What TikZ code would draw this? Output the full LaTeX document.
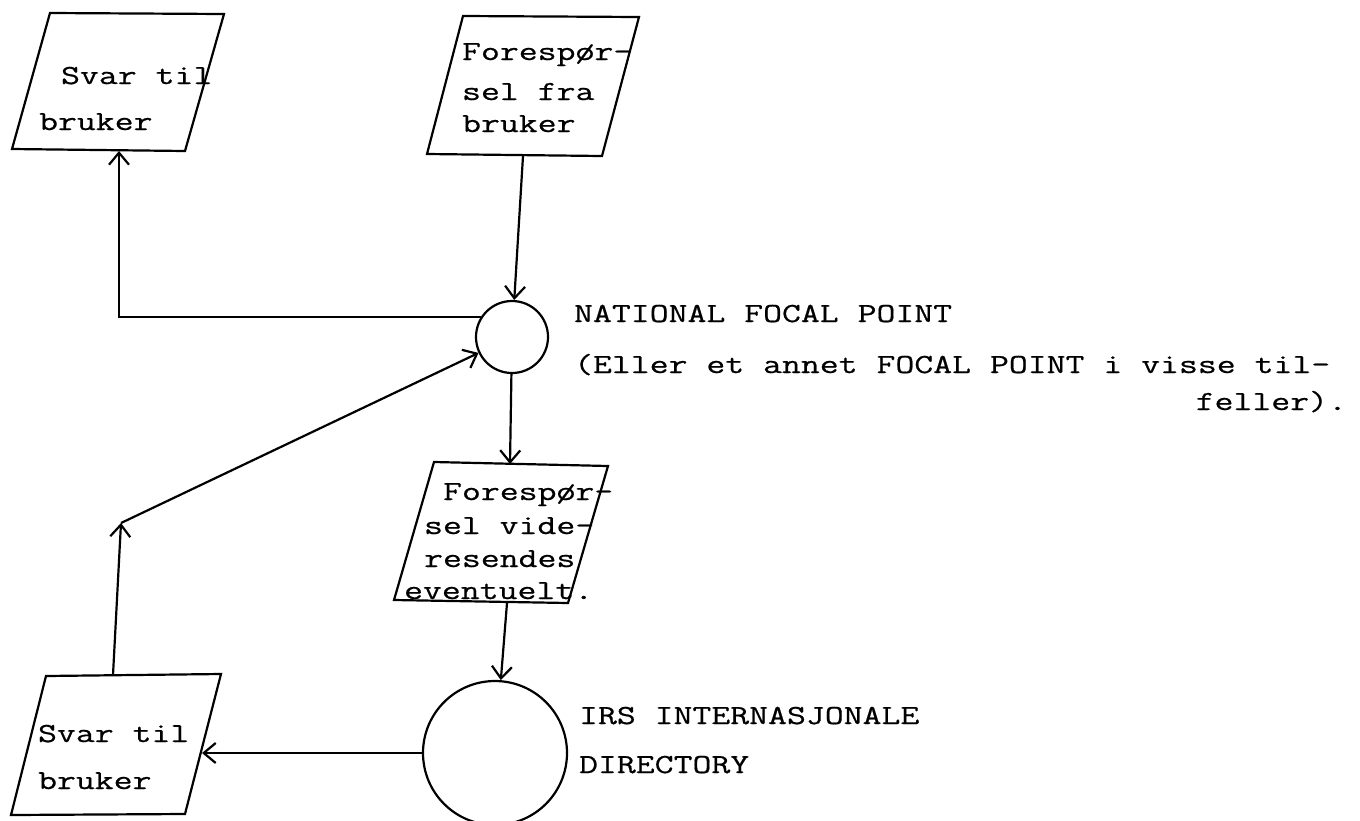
\documentclass[tikz,border=0pt]{standalone}
\usepackage{fontspec}
\setmonofont[FakeStretch=1.33,FakeBold=0.6]{Latin Modern Mono}
\usetikzlibrary{arrows.meta}

\begin{document}
\begin{tikzpicture}[x=0.5pt, y=-0.5pt, line width=1.1pt, >={Straight Barb[length=6pt,width=10pt]},
  txt/.style={anchor=base west, inner sep=0pt, font=\ttfamily\fontsize{13.8}{16}\selectfont},
  ring/.style={circle, draw, inner sep=0pt}]

\useasboundingbox (0,0) rectangle (1360,820);

% the four parallelograms
\draw (50,13) -- (224,14) -- (185,151) -- (12,149) -- cycle;
\draw (463,16) -- (639,17) -- (602,156) -- (427,154) -- cycle;
\draw (434,462) -- (608,466) -- (568,603) -- (394,600) -- cycle;
\draw (46,676) -- (221,674) -- (185,814) -- (11,815) -- cycle;

% texts in the boxes
\node[txt] (svarA) at (60,84) {Svar til};
\node[txt] (svarB) at (38,130) {bruker};
\node[txt] (foreA) at (461,60) {Forespør-};
\node[txt] (foreB) at (461,100) {sel fra};
\node[txt] (foreC) at (461,132) {bruker};
\node[txt] (videA) at (442,500) {Forespør-};
\node[txt] (videB) at (423,534) {sel vide-};
\node[txt] (videC) at (423,567) {resendes};
\node[txt] (videD) at (403,599) {eventuelt.};
\node[txt] (retA) at (37,742) {Svar til};
\node[txt] (retB) at (37,789) {bruker};

% the two centres
\node[ring, minimum size=36pt] (nfp) at (512,337) {};
\node[ring, minimum size=72pt] (irs) at (495,753) {};
\node[txt] (nfpA) at (573,322) {NATIONAL FOCAL POINT};
\node[txt] (nfpB) at (573,373) {(Eller et annet FOCAL POINT i visse til-};
\node[txt, anchor=base east] (nfpC) at (1348,410) {feller).};
\node[txt] (irsA) at (578,724) {IRS INTERNASJONALE};
\node[txt] (irsB) at (578,773) {DIRECTORY};

% connection points
\coordinate (svar1) at (119,151);
\coordinate (fore1) at (523,156);
\coordinate (vide1) at (510,464);
\coordinate (vide2) at (507,603);
\coordinate (ret1) at (202,753);
\coordinate (ret2) at (113,675);
\coordinate (knee) at (121,523);

% the flow
\draw[->] (fore1) -- (nfp);
\draw[->] (nfp.148) -- (nfp.148 -| svar1) -- (svar1);
\draw[->] (nfp) -- (vide1);
\draw[->] (vide2) -- (irs);
\draw[->] (irs) -- (ret1);
\draw[->] (ret2) -- (knee);
\draw[->] (knee) -- (nfp);
\end{tikzpicture}
\end{document}
